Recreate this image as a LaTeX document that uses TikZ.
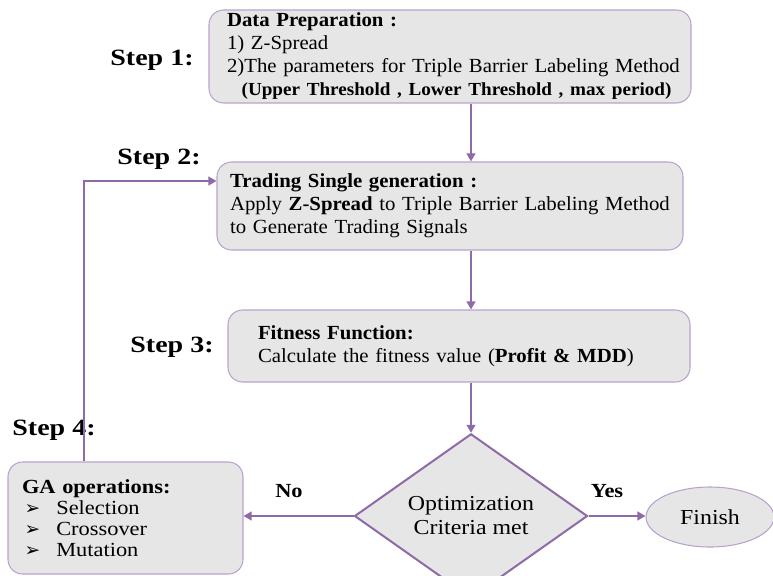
\documentclass[tikz,border=0pt]{standalone}
\usepackage{fontspec}
\setmainfont{Liberation Serif}[FakeStretch=1.04]
\newfontfamily\stepfont[FakeStretch=1.2]{Liberation Serif}
\newfontfamily\widefont[FakeStretch=1.12]{Liberation Serif}
\newfontfamily\symfont{DejaVu Sans}
\usetikzlibrary{shapes.geometric,arrows.meta}
\definecolor{flowline}{HTML}{8E6AA8}
\definecolor{boxedge}{HTML}{B9A3CD}
\definecolor{boxfill}{HTML}{E6E6E6}
\newcommand{\itm}{\hspace*{2pt}{\symfont\fontsize{14}{14}\selectfont\char"27A2}\hspace{12pt}}

\begin{document}
\begin{tikzpicture}[x=0.75pt,y=-0.75pt,
                stepbox/.style={rectangle,rounded corners=11pt,draw=boxedge,fill=boxfill,thick,
                inner sep=0pt,align=left,font=\fontsize{15}{17.25}\selectfont},
                critbox/.style={diamond,draw=flowline,fill=boxfill,line width=1.5pt,
                inner sep=0pt,align=center,font=\widefont\fontsize{16}{18}\selectfont},
                endbox/.style={ellipse,draw=boxedge,fill=boxfill,thick,
                inner sep=0pt,font=\widefont\fontsize{16}{18}\selectfont},
                steplabel/.style={font=\stepfont\bfseries\fontsize{17.5}{20}\selectfont},
                flow/.style={draw=flowline,line width=1.9pt,-{Triangle[length=6pt,width=6.5pt]}}]
                \useasboundingbox (0,0) rectangle (773,575);
                \node (prep) at (450,56.5) [stepbox,minimum width=361.5pt,minimum height=69.75pt,text width=334.5pt]
                    {\textbf{Data Preparation :}\\
                     1) Z-Spread\\
                     \mbox{2)The parameters for Triple Barrier Labeling Method}\\
                     \mbox{\hspace*{11pt}\fontsize{13.8}{17.25}\selectfont\textbf{(Upper Threshold , Lower Threshold , max period)}}};
                \node (trade) at (450,206) [stepbox,minimum width=349.5pt,minimum height=66pt,text width=330pt]
                    {\textbf{Trading Single generation :}\\
                     \mbox{Apply \textbf{Z-Spread} to Triple Barrier Labeling Method}\\
                     to Generate Trading Signals};
                \node (fit) at (459,346) [stepbox,minimum width=346.5pt,minimum height=54pt,text width=301.5pt]
                    {\textbf{Fitness Function:}\\
                     \mbox{Calculate the fitness value (\textbf{Profit \& MDD})}};
                \node (crit) at (471,516) [critbox,minimum width=174.75pt,minimum height=88.5pt]
                    {Optimization\\Criteria met};
                \node (gaop) at (125.5,518) [stepbox,minimum width=176.25pt,minimum height=84pt,text width=155.25pt,
                    font=\widefont\fontsize{15}{15.75}\selectfont]
                    {\textbf{GA operations:}\\
                     \itm Selection\\
                     \itm Crossover\\
                     \itm Mutation};
                \node (done) at (710,517) [endbox,minimum width=96pt,minimum height=45pt] {Finish};
                \node (s1) at (152,60) [steplabel] {Step 1:};
                \node (s2) at (159,159) [steplabel] {Step 2:};
                \node (s3) at (172,347) [steplabel] {Step 3:};
                \node (s4) at (54,430) [steplabel] {Step 4:};
                \node (no) at (289,491) [steplabel,font=\widefont\bfseries\fontsize{15}{17}\selectfont] {No};
                \node (yes) at (607,491) [steplabel,font=\widefont\bfseries\fontsize{15}{17}\selectfont] {Yes};
                \coordinate (back) at (84,181);
                \draw[flow] (prep.south -| crit) -- (trade.north -| crit);
                \draw[flow] (trade.south -| crit) -- (fit.north -| crit);
                \draw[flow] (fit.south -| crit) -- (crit.north);
                \draw[flow] (crit.west) -- (gaop.east |- crit.west);
                \draw[flow] (crit.east) -- (done.west |- crit.east);
                \draw[flow] (gaop.north -| back) -- (back) -- (trade.west |- back);
            \end{tikzpicture}
\end{document}
